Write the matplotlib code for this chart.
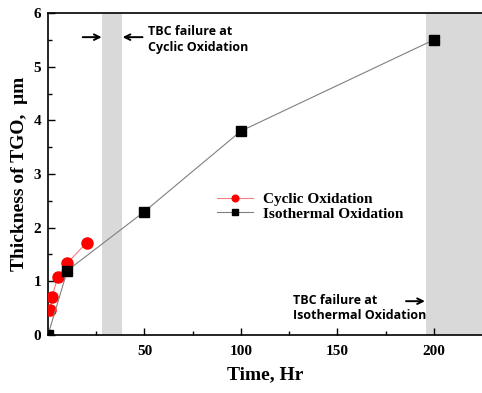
import matplotlib
matplotlib.use("Agg")
import matplotlib.pyplot as plt
from matplotlib.ticker import MultipleLocator, FixedLocator

# data
cyc_time = [1, 2, 5, 10, 20]
cyc_thick = [0.46, 0.70, 1.08, 1.34, 1.72]
iso_time = [0, 10, 50, 100, 200]
iso_thick = [0.0, 1.2, 2.3, 3.8, 5.5]

# failure windows (hr)
cyc_fail = (28, 38.5)
iso_fail = (196, 230)

serif = "Liberation Serif"
sans = "Open Sans"

fig = plt.figure(figsize=(4.82, 3.93), dpi=100)
ax = fig.add_axes([0.0996, 0.1476, 0.9004, 0.8193])

ax.axvspan(*cyc_fail, color="#d9d9d9", lw=0, zorder=0)
ax.axvspan(*iso_fail, color="#d9d9d9", lw=0, zorder=0)

ax.plot(cyc_time, cyc_thick, color="#f08080", lw=0.8, marker="o", ms=8,
        mfc="red", mec="red", label="Cyclic Oxidation", zorder=3)
ax.plot(iso_time, iso_thick, color="#808080", lw=0.8, marker="s", ms=7,
        mfc="black", mec="black", label="Isothermal Oxidation", zorder=3)

ax.set_xlim(0, 225)
ax.set_ylim(0, 6)
ax.xaxis.set_major_locator(FixedLocator([50, 100, 150, 200]))
ax.xaxis.set_minor_locator(FixedLocator([25, 75, 125, 175]))
ax.yaxis.set_major_locator(MultipleLocator(1))
ax.yaxis.set_minor_locator(MultipleLocator(0.5))
ax.tick_params(which="both", direction="in", width=1)
ax.tick_params(which="major", length=5, labelsize=11, pad=7)
ax.tick_params(which="minor", length=3)
ax.tick_params(axis="y", pad=5)
for lab in ax.get_xticklabels() + ax.get_yticklabels():
    lab.set_fontfamily(serif)
    lab.set_fontweight("bold")
ax.spines["right"].set_visible(False)
for s in ["left", "bottom", "top"]:
    ax.spines[s].set_linewidth(1.2)

ax.set_xlabel("Time, Hr", fontfamily=serif, fontweight="bold", fontsize=14, labelpad=6)
ax.set_ylabel("Thickness of TGO,  \u03bcm", fontfamily=serif, fontweight="bold", fontsize=14, labelpad=4)

ax.legend(loc="upper left", bbox_to_anchor=(0.389, 0.442), frameon=False,
          prop={"family": serif, "weight": "bold", "size": 11},
          borderpad=0, borderaxespad=0,
          handlelength=2.35, handletextpad=0.65, labelspacing=0.05, markerscale=0.6)

# annotations
txt = dict(fontfamily=sans, fontweight="bold", fontsize=9, va="baseline", ha="left")
arr = dict(arrowstyle="->", color="black", lw=1.4, shrinkA=0, shrinkB=0)
ax.annotate("", xy=(27.8, 5.55), xytext=(18, 5.55), arrowprops=arr)
ax.annotate("", xy=(38.7, 5.55), xytext=(49, 5.55), arrowprops=arr)
ax.text(52, 5.59, "TBC failure at", **txt)
ax.text(52, 5.29, "Cyclic Oxidation", **txt)
ax.annotate("", xy=(195.4, 0.63), xytext=(185.6, 0.63), arrowprops=arr)
ax.text(126.8, 0.578, "TBC failure at", **txt)
ax.text(126.8, 0.298, "Isothermal Oxidation", **txt)

fig.savefig("out.png", dpi=100)
